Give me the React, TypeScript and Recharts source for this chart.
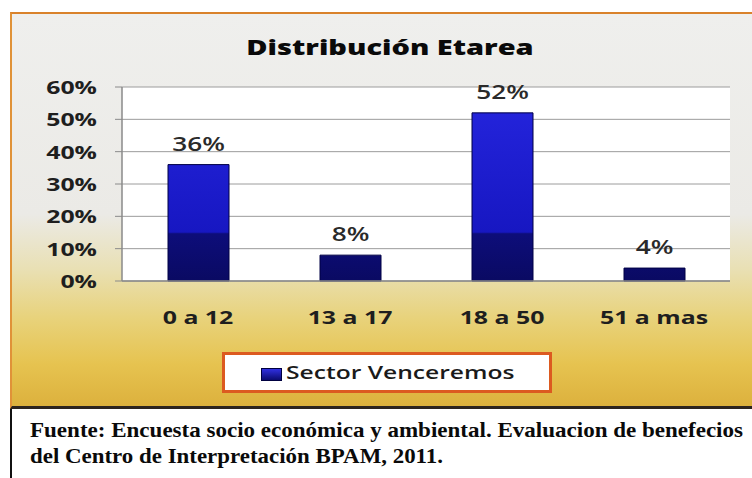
import { BarChart, Bar, XAxis, YAxis, CartesianGrid, Legend, LabelList } from 'recharts'

const CATEGORIES = ['0 a 12', '13 a 17', '18 a 50', '51 a mas']
const SECTOR_VENCEREMOS = [36, 8, 52, 4]
const Y_TICKS = [0, 10, 20, 30, 40, 50, 60]
const CATEGORY_EDGES = [0, 1, 2, 3, 4]

const SERIES_NAME = 'Sector Venceremos'
const TITLE = 'Distribución Etarea'
const SOURCE_LINES = [
  'Fuente: Encuesta socio económica y ambiental. Evaluacion de benefecios',
  'del Centro de Interpretación BPAM, 2011.',
]

const data = CATEGORIES.map((name, i) => ({ name, value: SECTOR_VENCEREMOS[i] }))

// the scanned chart is stretched sideways, so text gets squashed back out
const SX = 1.38
const FONT = '"Open Sans", "DejaVu Sans", sans-serif'
const SERIF = '"Liberation Serif", "Times New Roman", serif'

function YTick({ x, y, payload }: any) {
  return (
    <text
      transform={`translate(${x},${y}) scale(${SX},1)`}
      textAnchor="end"
      dominantBaseline="central"
      fontFamily={FONT}
      fontSize={18}
      fontWeight={700}
      fill="#1e1e1e"
    >
      {payload.value}%
    </text>
  )
}

function XTick({ x, y, payload }: any) {
  return (
    <text
      transform={`translate(${x},${y + 28}) scale(${SX},1)`}
      textAnchor="middle"
      dominantBaseline="central"
      fontFamily={FONT}
      fontSize={18}
      fontWeight={700}
      fill="#1e1e1e"
    >
      {payload.value}
    </text>
  )
}

function BarLabel({ x, y, width, value }: any) {
  return (
    <text
      transform={`translate(${x + width / 2},${y - 21}) scale(${SX},1)`}
      textAnchor="middle"
      dominantBaseline="central"
      fontFamily={FONT}
      fontSize={19}
      fontWeight={600}
      fill="#2a2a2a"
    >
      {value}%
    </text>
  )
}

function LegendBox({ payload }: any) {
  const item = payload && payload[0]
  return (
    <div
      style={{
        position: 'relative',
        boxSizing: 'border-box',
        width: 330,
        height: 41,
        border: '3px solid #dc5a20',
        background: '#ffffff',
      }}
    >
      <span
        style={{
          position: 'absolute',
          left: 36,
          top: 13,
          width: 19,
          height: 11,
          background: 'linear-gradient(#3030e0, #0b0b70)',
          border: '1px solid #000040',
        }}
      />
      <span
        style={{
          position: 'absolute',
          left: 61,
          top: 4,
          fontFamily: FONT,
          fontSize: 18.5,
          fontWeight: 600,
          color: '#1a1a1a',
          whiteSpace: 'nowrap',
          transform: `scaleX(${SX - 0.05})`,
          transformOrigin: 'left center',
        }}
      >
        {item ? item.value : SERIES_NAME}
      </span>
    </div>
  )
}

export default function App() {
  return (
    <div
      style={{
        position: 'absolute',
        left: 0,
        top: 0,
        width: 752,
        height: 478,
        overflow: 'hidden',
        background: '#ffffff',
      }}
    >
      <div
        style={{
          position: 'absolute',
          left: 10,
          top: 12,
          width: 742,
          height: 397,
          boxSizing: 'border-box',
          borderTop: '2px solid #d9822b',
          borderLeft: '2px solid #e09238',
          borderBottom: '3px solid #2c241e',
          background:
            'linear-gradient(to bottom, #efefed 0px, #ebeae6 200px, #e9e0b4 255px, #e8d27a 305px, #e6c350 350px, #dcb03c 394px)',
        }}
      />
      <div style={{ position: 'absolute', left: 0, top: 0 }}>
        <BarChart
          width={752}
          height={400}
          data={data}
          margin={{ top: 87, right: 22, bottom: 88, left: 62 }}
        >
          <defs>
            <linearGradient id="barFill" gradientUnits="userSpaceOnUse" x1="0" y1="0" x2="0" y2="281">
              <stop offset="0.4" stopColor="#2323da" />
              <stop offset="0.826" stopColor="#1717c2" />
              <stop offset="0.832" stopColor="#0d0d7a" />
              <stop offset="1" stopColor="#0a0a62" />
            </linearGradient>
          </defs>
          <text
            transform={`translate(390,47) scale(${SX},1)`}
            textAnchor="middle"
            dominantBaseline="central"
            fontFamily={FONT}
            fontSize={21}
            fontWeight={800}
            fill="#0a0a0a"
          >
            {TITLE}
          </text>
          <CartesianGrid xAxisId="cat" vertical={false} fill="#ffffff" stroke="#9c9c9c" strokeWidth={1} />
          <XAxis
            xAxisId="edges"
            type="number"
            domain={[0, 4]}
            ticks={CATEGORY_EDGES}
            height={1}
            tick={false}
            tickSize={5}
            axisLine={false}
            tickLine={{ stroke: '#6a6a6a' }}
          />
          <XAxis
            xAxisId="cat"
            dataKey="name"
            height={30}
            tick={<XTick />}
            tickLine={false}
            axisLine={{ stroke: '#8a8a8a', strokeWidth: 1.5 }}
          />
          <YAxis
            width={60}
            domain={[0, 60]}
            ticks={Y_TICKS}
            interval={0}
            tick={<YTick />}
            tickSize={7}
            tickMargin={18}
            tickLine={{ stroke: '#8a8a8a' }}
            axisLine={{ stroke: '#8a8a8a', strokeWidth: 1.5 }}
          />
          <Legend
            layout="horizontal"
            verticalAlign="middle"
            align="center"
            content={<LegendBox />}
            wrapperStyle={{ top: 352, left: 222, width: 330, height: 41 }}
          />
          <Bar
            xAxisId="cat"
            dataKey="value"
            name={SERIES_NAME}
            fill="url(#barFill)"
            stroke="#000045"
            strokeWidth={1}
            barSize={61}
            isAnimationActive={false}
          >
            <LabelList dataKey="value" content={<BarLabel />} />
          </Bar>
        </BarChart>
      </div>
      <svg
        width={752}
        height={69}
        style={{ position: 'absolute', left: 0, top: 409 }}
      >
        <line x1={11} y1={0} x2={11} y2={69} stroke="#111" strokeWidth={2} />
        <text
          x={30}
          y={28}
          textLength={713}
          lengthAdjust="spacingAndGlyphs"
          fontFamily={SERIF}
          fontWeight={700}
          fontSize={22}
          fill="#0a0a0a"
        >
          {SOURCE_LINES[0]}
        </text>
        <text
          x={30}
          y={54}
          textLength={413}
          lengthAdjust="spacingAndGlyphs"
          fontFamily={SERIF}
          fontWeight={700}
          fontSize={22}
          fill="#0a0a0a"
        >
          {SOURCE_LINES[1]}
        </text>
      </svg>
    </div>
  )
}
